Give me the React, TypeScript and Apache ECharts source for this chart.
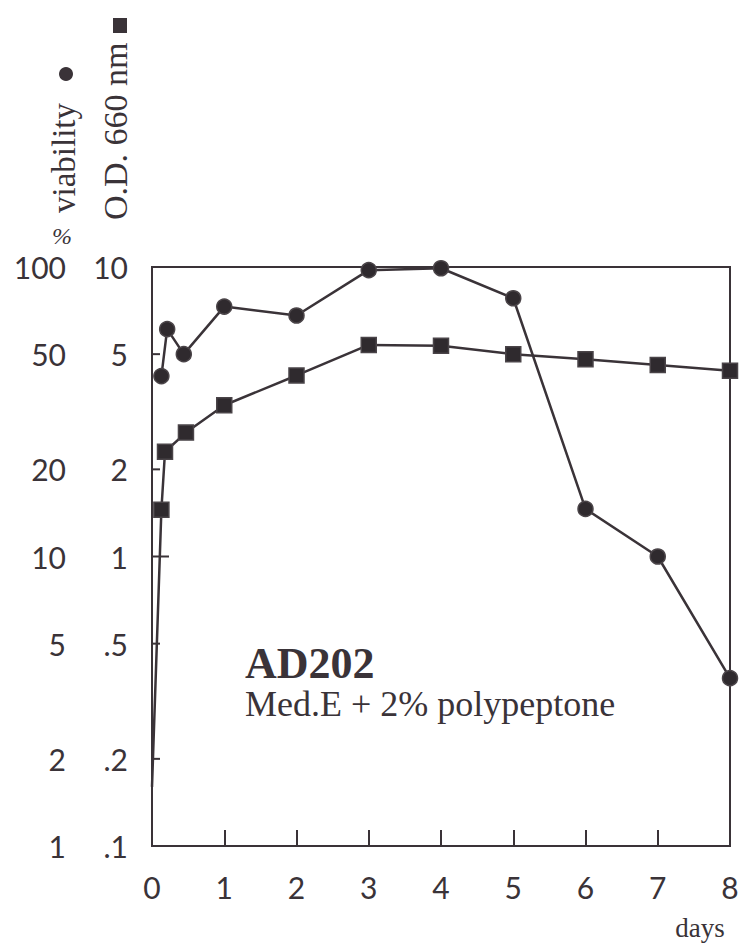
import React, { useEffect, useRef } from "react";
import * as echarts from "echarts";

// ---- data ----
const viabilityDays = [0.13, 0.21, 0.44, 1, 2, 3, 4, 5, 6, 7, 8];
const viabilityPct = [42, 61, 50, 73, 68, 97.5, 99, 78, 14.6, 10, 3.8];

const odDays = [0, 0.13, 0.18, 0.47, 1, 2, 3, 4, 5, 6, 7, 8];
const od660 = [0.16, 1.45, 2.3, 2.68, 3.33, 4.22, 5.38, 5.35, 5.0, 4.8, 4.59, 4.38];

const dayTicks = [0, 1, 2, 3, 4, 5, 6, 7, 8];
const odTicks = [0.1, 0.2, 0.5, 1, 2, 5, 10];
const odTickLabels = [".1", ".2", ".5", "1", "2", "5", "10"];
const viabilityTickLabels = ["1", "2", "5", "10", "20", "50", "100"];
const innerTicks = [0.2, 0.5, 1, 2, 5];
const majorInnerTicks = [1];

const INK = "#3a3338";
const NUM_FONT = "Lato";
const SERIF = "Liberation Serif";

export default function App() {
  const ref = useRef<HTMLDivElement>(null);

  useEffect(() => {
    if (!ref.current) return;
    const chart = echarts.init(ref.current, undefined, { renderer: "svg" });

    const odData: any[] = odDays.map((d, i) =>
      i === 0 ? { value: [d, od660[i]], symbol: "none" } : [d, od660[i]]
    );
    const viaData = viabilityDays.map((d, i) => [d, viabilityPct[i]]);

    chart.setOption({
      animation: false,
      backgroundColor: "#ffffff",
      grid: {
        left: 152,
        top: 267,
        right: 14,
        bottom: 103,
        show: true,
        borderColor: INK,
        borderWidth: 2,
        backgroundColor: "transparent",
      },
      xAxis: {
        type: "value",
        min: 0,
        max: 8,
        interval: 1,
        axisLine: { show: true, lineStyle: { color: INK, width: 2 } },
        axisTick: { show: true, inside: true, length: 16, lineStyle: { color: INK, width: 2 } },
        axisLabel: {
          show: true,
          margin: 26,
          color: INK,
          fontFamily: NUM_FONT,
          fontWeight: "normal",
          fontSize: 30,
          formatter: (v: number) => (dayTicks.includes(v) ? String(v) : ""),
        },
        splitLine: { show: false },
      },
      yAxis: [
        {
          type: "log",
          logBase: 10,
          min: 0.1,
          max: 10,
          axisLine: { show: false },
          axisTick: { show: false },
          axisLabel: { show: false },
          splitLine: { show: false },
        },
        {
          type: "log",
          logBase: 10,
          min: 1,
          max: 100,
          axisLine: { show: false },
          axisTick: { show: false },
          axisLabel: { show: false },
          splitLine: { show: false },
        },
      ],
      graphic: [
        {
          type: "text",
          x: 245,
          y: 663,
          style: {
            text: "AD202",
            fill: INK,
            fontFamily: SERIF,
            fontWeight: "bold",
            fontSize: 44,
            align: "left",
            verticalAlign: "middle",
          },
        },
        {
          type: "text",
          x: 245,
          y: 704,
          style: {
            text: "Med.E + 2% polypeptone",
            fill: INK,
            fontFamily: SERIF,
            fontSize: 36,
            align: "left",
            verticalAlign: "middle",
          },
        },
        {
          type: "text",
          x: 700,
          y: 928,
          style: {
            text: "days",
            fill: INK,
            fontFamily: SERIF,
            fontSize: 27,
            align: "center",
            verticalAlign: "middle",
          },
        },
        {
          type: "text",
          x: 64,
          y: 213,
          rotation: Math.PI / 2,
          style: {
            text: "viability",
            fill: INK,
            fontFamily: SERIF,
            fontSize: 33,
            align: "left",
            verticalAlign: "middle",
          },
        },
        {
          type: "circle",
          shape: { cx: 66, cy: 74, r: 7 },
          style: { fill: INK },
        },
        {
          type: "text",
          x: 115,
          y: 220,
          rotation: Math.PI / 2,
          style: {
            text: "O.D. 660 nm",
            fill: INK,
            fontFamily: SERIF,
            fontSize: 34,
            align: "left",
            verticalAlign: "middle",
          },
        },
        {
          type: "rect",
          shape: { x: 113, y: 18, width: 14, height: 15 },
          style: { fill: INK },
        },
        {
          type: "text",
          x: 62,
          y: 236,
          style: {
            text: "%",
            fill: INK,
            fontFamily: SERIF,
            fontStyle: "italic",
            fontSize: 24,
            align: "center",
            verticalAlign: "middle",
          },
        },
      ],
      series: [
        {
          name: "O.D. 660 nm",
          type: "line",
          yAxisIndex: 0,
          data: odData,
          symbol: "rect",
          symbolSize: 15,
          clip: false,
          lineStyle: { color: INK, width: 2.5 },
          itemStyle: { color: "#2f2a2e", borderColor: "#4a4448", borderWidth: 1.5 },
          z: 3,
        },
        {
          name: "viability",
          type: "line",
          yAxisIndex: 1,
          data: viaData,
          symbol: "circle",
          symbolSize: 15,
          clip: false,
          lineStyle: { color: INK, width: 2.5 },
          itemStyle: { color: "#2f2a2e", borderColor: "#4a4448", borderWidth: 1.5 },
          z: 4,
        },
        {
          name: "yTicks",
          type: "custom",
          yAxisIndex: 0,
          data: innerTicks.map((v) => [0, v]),
          clip: false,
          silent: true,
          renderItem: (params: any, api: any) => {
            const v = api.value(1);
            const p = api.coord([0, v]);
            const len = majorInnerTicks.includes(v) ? 17 : 8;
            return {
              type: "line",
              shape: { x1: p[0], y1: p[1], x2: p[0] + len, y2: p[1] },
              style: { stroke: INK, lineWidth: 2 },
            };
          },
          z: 2,
        },
        {
          name: "yLabels",
          type: "custom",
          yAxisIndex: 0,
          data: odTicks.map((v, i) => [0, v, i]),
          clip: false,
          silent: true,
          renderItem: (params: any, api: any) => {
            const v = api.value(1);
            const i = api.value(2);
            const p = api.coord([0, v]);
            const font = { fill: INK, fontFamily: NUM_FONT, fontWeight: "normal", fontSize: 30, verticalAlign: "middle" };
            return {
              type: "group",
              children: [
                {
                  type: "text",
                  x: p[0] - 86,
                  y: p[1],
                  style: { ...font, text: viabilityTickLabels[i], align: "right" },
                },
                {
                  type: "text",
                  x: p[0] - 24,
                  y: p[1],
                  style: { ...font, text: odTickLabels[i], align: "right" },
                },
              ],
            };
          },
          z: 2,
        },
      ],
    });

    return () => chart.dispose();
  }, []);

  return (
    <div
      ref={ref}
      style={{ position: "absolute", left: 0, top: 0, width: 744, height: 949 }}
    />
  );
}
